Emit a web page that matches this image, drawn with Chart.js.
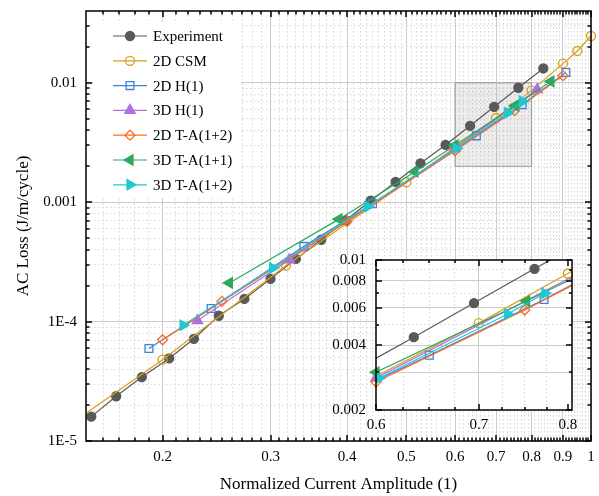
<!DOCTYPE html>
<html>
<head>
<meta charset="utf-8">
<script src="https://cdn.jsdelivr.net/npm/chart.js@4.4.1/dist/chart.umd.min.js"></script>
<style>
  html, body { margin: 0; padding: 0; background: #fff; }
  #wrap { position: relative; width: 599px; height: 496px; }
  #mainChart { position: absolute; left: 0; top: 0; }
  #insetChart { position: absolute; left: 316px; top: 250px; }
</style>
</head>
<body>
<div id="wrap">
  <canvas id="mainChart" width="599" height="496"></canvas>
  <canvas id="insetChart" width="280" height="190"></canvas>
</div>
<script>
// ---- data ----
const expX = [0.153, 0.168, 0.185, 0.205, 0.225, 0.247, 0.272, 0.300, 0.330, 0.363, 0.398, 0.437, 0.480, 0.527, 0.579, 0.635, 0.695, 0.761, 0.836];
const expY = [1.60e-5, 2.37e-5, 3.43e-5, 4.92e-5, 7.18e-5, 1.12e-4, 1.55e-4, 2.28e-4, 3.35e-4, 4.85e-4, 7.06e-4, 1.03e-3, 1.48e-3, 2.12e-3, 3.02e-3, 4.37e-3, 6.30e-3, 9.10e-3, 1.32e-2];

const csmX = [0.10, 0.20, 0.318, 0.50, 0.70, 0.80, 0.90, 0.95, 1.00];
const csmY = [4.0e-6, 4.8e-5, 2.95e-4, 1.47e-3, 5.08e-3, 8.65e-3, 1.45e-2, 1.85e-2, 2.47e-2];

const h2dX = [0.190, 0.240, 0.340, 0.440, 0.650, 0.772, 0.910];
const h2dY = [5.96e-5, 1.29e-4, 4.27e-4, 9.7e-4, 3.6e-3, 6.55e-3, 1.22e-2];

const h3dX = [0.228, 0.322, 0.600, 0.817];
const h3dY = [1.02e-4, 3.30e-4, 2.82e-3, 8.8e-3];

const ta2dX = [0.200, 0.250, 0.400, 0.600, 0.750, 0.900];
const ta2dY = [7.05e-5, 1.48e-4, 6.9e-4, 2.7e-3, 5.85e-3, 1.15e-2];

const ta3d11X = [0.257, 0.388, 0.516, 0.600, 0.752, 0.860];
const ta3d11Y = [2.11e-4, 7.22e-4, 1.80e-3, 3.0e-3, 6.44e-3, 1.03e-2];

const ta3d12X = [0.216, 0.3025, 0.432, 0.603, 0.731, 0.773];
const ta3d12Y = [9.33e-5, 2.81e-4, 9.2e-4, 2.82e-3, 5.6e-3, 7.0e-3];

// ---- axes ----
const xTicksMain = [0.2, 0.3, 0.4, 0.5, 0.6, 0.7, 0.8, 0.9, 1.0];
const xLabelsMain = ['0.2', '0.3', '0.4', '0.5', '0.6', '0.7', '0.8', '0.9', '1'];
const yTicksMain = [1e-5, 1e-4, 1e-3, 1e-2];
const yLabelsMain = ['1E-5', '1E-4', '0.001', '0.01'];

const xTicksInset = [0.6, 0.7, 0.8];
const xLabelsInset = ['0.6', '0.7', '0.8'];
const yTicksInset = [0.002, 0.004, 0.006, 0.008, 0.01];
const yLabelsInset = ['0.002', '0.004', '0.006', '0.008', '0.01'];
const yGridInset = [0.003, 0.004, 0.006, 0.008];
const yMinorInset = [0.003, 0.005, 0.007, 0.009];
const xMinorInset = [0.625, 0.65, 0.675, 0.725, 0.75, 0.775];

const boxX = [0.6, 0.8];
const boxY = [0.002, 0.01];

const MAIN = { xMin: 0.15, xMax: 1.0, yMin: 1e-5, yMax: 0.04 };
const INSET = { xMin: 0.6, xMax: 0.805, yMin: 0.002, yMax: 0.01 };

const FONT = '"Liberation Serif", "Times New Roman", serif';

function steps(a, b, step) {
  const out = [];
  for (let k = Math.ceil(a / step - 1e-9); k * step <= b + 1e-9; k++) out.push(+(k * step).toFixed(6));
  return out;
}
const xMinorMain = steps(MAIN.xMin, MAIN.xMax, 0.01)
  .filter(v => v > MAIN.xMin && !xTicksMain.some(m => Math.abs(m - v) < 1e-9));
const yMinorMain = [];
for (let e = -5; e <= -2; e++) {
  for (let m = 2; m <= 9; m++) {
    const v = m * Math.pow(10, e);
    if (v < MAIN.yMax) yMinorMain.push(v);
  }
}

// ---- series styles ----
const seriesList = [
  { label: 'Experiment', xs: expX, ys: expY, color: '#595959', fill: '#595959', pointStyle: 'circle', radius: 4.5, rotation: 0 },
  { label: '2D CSM', xs: csmX, ys: csmY, color: '#D6A018', fill: 'rgba(0,0,0,0)', pointStyle: 'circle', radius: 4.5, rotation: 0 },
  { label: '2D H(1)', xs: h2dX, ys: h2dY, color: '#3D80E0', fill: 'rgba(0,0,0,0)', pointStyle: 'rect', radius: 5.5, rotation: 0 },
  { label: '3D H(1)', xs: h3dX, ys: h3dY, color: '#B26FE3', fill: '#B26FE3', pointStyle: 'triangle', radius: 6, rotation: 0 },
  { label: '2D T-A(1+2)', xs: ta2dX, ys: ta2dY, color: '#FF6B1F', fill: 'rgba(0,0,0,0)', pointStyle: 'rectRot', radius: 5, rotation: 0 },
  { label: '3D T-A(1+1)', xs: ta3d11X, ys: ta3d11Y, color: '#2DA85F', fill: '#2DA85F', pointStyle: 'triangle', radius: 6, rotation: 270 },
  { label: '3D T-A(1+2)', xs: ta3d12X, ys: ta3d12Y, color: '#1FC8D3', fill: '#1FC8D3', pointStyle: 'triangle', radius: 6, rotation: 90 }
];

function buildDatasets(r) {
  const sets = [];
  const n = seriesList.length;
  seriesList.forEach((s, i) => {
    const pts = s.xs.map((x, k) => ({ x: x, y: s.ys[k] }));
    sets.push({
      label: s.label,
      data: pts,
      showLine: true,
      borderColor: s.color,
      borderWidth: 1.2,
      pointRadius: 0,
      fill: false,
      tension: 0,
      order: (n - i) * 2 + 1
    });
    sets.push({
      label: s.label + ' markers',
      data: pts.filter(p => p.x >= r.xMin && p.x <= r.xMax && p.y >= r.yMin && p.y <= r.yMax),
      showLine: false,
      clip: false,
      pointStyle: s.pointStyle,
      pointRadius: s.radius,
      pointRotation: s.rotation,
      pointBackgroundColor: s.fill,
      pointBorderColor: s.color,
      pointBorderWidth: 1.3,
      order: (n - i) * 2
    });
  });
  return sets;
}

// fixed box sizes, and no extra padding asked for by edge labels
function fixSize(ax, horiz, size) {
  if (horiz) ax.height = size; else ax.width = size;
  ax.paddingTop = 0; ax.paddingBottom = 0;
  ax.paddingLeft = 0; ax.paddingRight = 0;
}

function majorAxis(pos, r, ticks, labels, size, pad, title) {
  const horiz = pos === 'bottom';
  const axis = {
    type: 'logarithmic',
    position: pos,
    min: horiz ? r.xMin : r.yMin,
    max: horiz ? r.xMax : r.yMax,
    bounds: 'data',
    afterBuildTicks: ax => { ax.ticks = ticks.map(v => ({ value: v })); },
    afterFit: ax => fixSize(ax, horiz, size),
    grid: { color: '#cccccc', lineWidth: 1, drawTicks: false },
    border: { display: false },
    ticks: {
      autoSkip: false,
      maxRotation: 0,
      padding: pad,
      color: '#000',
      font: { family: FONT, size: 15, lineHeight: 1.2 },
      callback: (v, i) => labels[i]
    }
  };
  if (title) axis.title = title;
  return axis;
}

function minorAxis(pos, r, ticks) {
  const horiz = pos === 'bottom';
  return {
    type: 'logarithmic',
    position: pos,
    min: horiz ? r.xMin : r.yMin,
    max: horiz ? r.xMax : r.yMax,
    bounds: 'data',
    afterBuildTicks: ax => { ax.ticks = ticks.map(v => ({ value: v })); },
    afterFit: ax => fixSize(ax, horiz, 0),
    grid: { color: '#d6d6d6', lineWidth: 1, drawTicks: false },
    border: { display: false, dash: [1.5, 2.5] },
    ticks: { display: false }
  };
}

// inward tick marks on all four sides plus the black frame
function frameTicks(cfg) {
  return {
    id: 'frameTicks',
    afterDraw(chart) {
      const { ctx, chartArea: a } = chart;
      const xs = chart.scales.x, ys = chart.scales.y;
      ctx.save();
      ctx.strokeStyle = '#000';
      ctx.lineWidth = 1.5;
      ctx.beginPath();
      const vx = (vals, len) => vals.forEach(v => {
        if (v < xs.min || v > xs.max) return;
        const p = Math.round(xs.getPixelForValue(v));
        ctx.moveTo(p, a.bottom); ctx.lineTo(p, a.bottom - len);
        ctx.moveTo(p, a.top); ctx.lineTo(p, a.top + len);
      });
      const vy = (vals, len) => vals.forEach(v => {
        if (v < ys.min || v > ys.max) return;
        const p = Math.round(ys.getPixelForValue(v));
        ctx.moveTo(a.left, p); ctx.lineTo(a.left + len, p);
        ctx.moveTo(a.right, p); ctx.lineTo(a.right - len, p);
      });
      vx(cfg.xMajor, cfg.majorLen); vx(cfg.xMinor, cfg.minorLen);
      vy(cfg.yMajor, cfg.majorLen); vy(cfg.yMinor, cfg.minorLen);
      ctx.stroke();
      ctx.lineWidth = 1.5;
      ctx.strokeRect(a.left, a.top, a.right - a.left, a.bottom - a.top);
      ctx.restore();
    }
  };
}

const zoomBox = {
  id: 'zoomBox',
  beforeDatasetsDraw(chart) {
    const { ctx } = chart;
    const xs = chart.scales.x, ys = chart.scales.y;
    const l = xs.getPixelForValue(boxX[0]), rr = xs.getPixelForValue(boxX[1]);
    const t = ys.getPixelForValue(boxY[1]), b = ys.getPixelForValue(boxY[0]);
    ctx.save();
    ctx.fillStyle = 'rgba(150,150,150,0.18)';
    ctx.fillRect(l, t, rr - l, b - t);
    ctx.strokeStyle = '#9a9a9a';
    ctx.lineWidth = 1;
    ctx.strokeRect(l, t, rr - l, b - t);
    ctx.restore();
  }
};

const insideLegend = {
  id: 'insideLegend',
  afterDraw(chart) {
    const ctx = chart.ctx;
    ctx.save();
    ctx.fillStyle = '#fff';
    ctx.fillRect(93, 22, 148, 176);
    ctx.textBaseline = 'middle';
    ctx.textAlign = 'left';
    ctx.font = '15px ' + FONT;
    seriesList.forEach((s, i) => {
      const y = 36 + i * 24.8;
      ctx.strokeStyle = s.color;
      ctx.lineWidth = 1.2;
      ctx.beginPath();
      ctx.moveTo(113, y); ctx.lineTo(147, y);
      ctx.stroke();
      ctx.fillStyle = s.fill;
      ctx.strokeStyle = s.color;
      ctx.lineWidth = 1.3;
      Chart.helpers.drawPoint(ctx, { pointStyle: s.pointStyle, rotation: s.rotation, radius: s.radius, borderWidth: 1.3 }, 130, y);
      ctx.fillStyle = '#000';
      ctx.fillText(s.label, 153, y + 1);
    });
    ctx.restore();
  }
};

const whiteArea = {
  id: 'whiteArea',
  beforeDraw(chart) {
    const { ctx, chartArea: a } = chart;
    ctx.save();
    ctx.fillStyle = '#fff';
    ctx.fillRect(a.left, a.top, a.right - a.left, a.bottom - a.top);
    ctx.restore();
  }
};

const mainChart = new Chart(document.getElementById('mainChart'), {
  type: 'scatter',
  data: { datasets: buildDatasets(MAIN) },
  options: {
    responsive: false,
    animation: false,
    devicePixelRatio: 1,
    layout: { autoPadding: false, padding: { left: 0, top: 11, right: 8, bottom: 0 } },
    scales: {
      x: majorAxis('bottom', MAIN, xTicksMain, xLabelsMain, 55, 7.5, {
        display: true, text: 'Normalized Current Amplitude (1)', color: '#000',
        font: { family: FONT, size: 17, lineHeight: 1.2 }, padding: { top: 0, bottom: 1.5 }
      }),
      y: majorAxis('left', MAIN, yTicksMain, yLabelsMain, 86, 9, {
        display: true, text: 'AC Loss (J/m/cycle)', color: '#000',
        font: { family: FONT, size: 17, lineHeight: 1.2 }, padding: { top: 13, bottom: 0 }
      }),
      x2: minorAxis('bottom', MAIN, xMinorMain),
      y2: minorAxis('left', MAIN, yMinorMain)
    },
    plugins: { legend: { display: false }, tooltip: { enabled: false } }
  },
  plugins: [zoomBox, frameTicks({ xMajor: xTicksMain, xMinor: xMinorMain, yMajor: yTicksMain, yMinor: yMinorMain, majorLen: 6, minorLen: 3.5 }), insideLegend]
});

// inset: labelled horizontal grid lines plus 0.003, vertical grid line only at 0.7
const insetY = majorAxis('left', INSET, yTicksInset.concat([0.003]).sort((a, b) => a - b), [], 60, 10, null);
insetY.ticks.callback = v => {
  const k = yTicksInset.findIndex(t => Math.abs(t - v) < 1e-9);
  return k >= 0 ? yLabelsInset[k] : '';
};
insetY.grid.color = ctx => (ctx.tick && yGridInset.some(v => Math.abs(v - ctx.tick.value) < 1e-9)) ? '#cccccc' : 'rgba(0,0,0,0)';
const insetX = majorAxis('bottom', INSET, xTicksInset, xLabelsInset, 30, 6, null);
insetX.grid.color = ctx => (ctx.tick && Math.abs(ctx.tick.value - 0.7) < 1e-9) ? '#cccccc' : 'rgba(0,0,0,0)';

const insetChart = new Chart(document.getElementById('insetChart'), {
  type: 'scatter',
  data: { datasets: buildDatasets(INSET) },
  options: {
    responsive: false,
    animation: false,
    devicePixelRatio: 1,
    layout: { autoPadding: false, padding: { left: 0, top: 10, right: 24, bottom: 0 } },
    scales: {
      x: insetX,
      y: insetY,
      x2: minorAxis('bottom', INSET, xMinorInset),
      y2: minorAxis('left', INSET, [0.005, 0.007, 0.009])
    },
    plugins: { legend: { display: false }, tooltip: { enabled: false } }
  },
  plugins: [whiteArea, frameTicks({ xMajor: xTicksInset, xMinor: xMinorInset, yMajor: yTicksInset, yMinor: yMinorInset, majorLen: 6, minorLen: 3 })]
});
</script>
</body>
</html>
